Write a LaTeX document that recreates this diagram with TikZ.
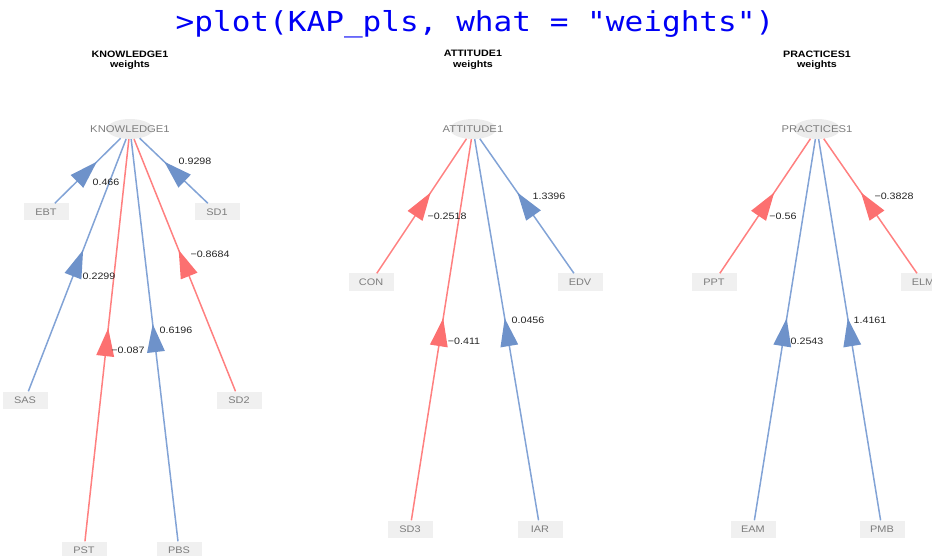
\documentclass[tikz,border=0pt]{standalone}
\usepackage{fontspec}
\setmainfont{Liberation Sans}
\newfontfamily\plotfont[FakeStretch=1.15]{Liberation Sans}
\newfontfamily\codefont[FakeStretch=1.13]{DejaVu Sans Mono}
\usetikzlibrary{arrows.meta,decorations.markings,shapes.geometric}

\definecolor{posline}{RGB}{130,163,214}
\definecolor{postip}{RGB}{110,146,202}
\definecolor{negline}{RGB}{255,128,128}
\definecolor{negtip}{RGB}{252,112,112}
\definecolor{boxgray}{RGB}{240,240,240}
\definecolor{ovalgray}{RGB}{236,236,236}
\definecolor{namegray}{RGB}{125,125,125}
\definecolor{codeblue}{RGB}{0,0,245}

\begin{document}
\begin{tikzpicture}[x=1pt,y=-1pt,
  mv/.style={rectangle, fill=boxgray, minimum width=45pt, minimum height=17pt,
    inner sep=0pt, text=namegray, font=\plotfont\fontsize{9.5}{11}\selectfont},
  lv/.style={ellipse, fill=ovalgray, minimum width=46pt, minimum height=20pt, inner sep=0pt},
  lvname/.style={text=namegray, inner sep=0pt, font=\plotfont\fontsize{9.8}{11}\selectfont},
  heading/.style={align=center, inner sep=0pt, font=\plotfont\bfseries\fontsize{9.3}{10.5}\selectfont},
  wlabel/.style={inner sep=0pt, text=black!85, font=\plotfont\fontsize{9.3}{11}\selectfont},
  posedge/.style={draw=posline, line width=1.5pt},
  negedge/.style={draw=negline, line width=1.5pt},
  tipat/.style 2 args={postaction=decorate, decoration={markings,
    mark=at position #1 with {\arrow{Triangle[length=28pt,width=18pt,line width=0pt,color=#2,fill=#2]}}}},
]
\useasboundingbox (0,0) rectangle (932,556);
\clip (0,0) rectangle (932,556);

% command line
\node[anchor=base, inner sep=0pt, text=codeblue, font=\codefont\fontsize{27.5}{32}\selectfont]
  (cmd) at (475,32) {>plot(KAP\_pls, what = "weights")};

% ---------- KNOWLEDGE1 ----------
\node[heading] (hK) at (130,60) {KNOWLEDGE1\\weights};
\node[lv] (K) at (130,129) {};
\node[lvname] (tK) at (K) {KNOWLEDGE1};
\node[mv] (EBT) at (46,212) {EBT};
\node[mv] (SD1) at (217,212) {SD1};
\node[mv] (SAS) at (25,400) {SAS};
\node[mv] (SD2) at (239,400) {SD2};
\node[mv] (PST) at (84,550) {PST};
\node[mv] (PBS) at (179,550) {PBS};

\draw[posedge, tipat={0.64}{postip}] (EBT) -- (K);
\draw[posedge, tipat={0.64}{postip}] (SD1) -- (K);
\draw[posedge, tipat={0.56}{postip}] (SAS) -- (K);
\draw[negedge, tipat={0.56}{negtip}] (SD2) -- (K);
\draw[negedge, tipat={0.53}{negtip}] (PST) -- (K);
\draw[posedge, tipat={0.54}{postip}] (PBS) -- (K);

\node[wlabel] (wEBT) at (106,182) {0.466};
\node[wlabel] (wSD1) at (195,161) {0.9298};
\node[wlabel] (wSAS) at (99,276) {0.2299};
\node[wlabel] (wSD2) at (210,254) {−0.8684};
\node[wlabel] (wPST) at (128,350) {−0.087};
\node[wlabel] (wPBS) at (176,330) {0.6196};

% ---------- ATTITUDE1 ----------
\node[heading] (hA) at (473,60) {ATTITUDE1\\weights};
\node[lv] (A) at (473,129) {};
\node[lvname] (tA) at (A) {ATTITUDE1};
\node[mv] (CON) at (371,282) {CON};
\node[mv] (EDV) at (580,282) {EDV};
\node[mv] (SD3) at (410,529) {SD3};
\node[mv] (IAR) at (540,529) {IAR};

\draw[negedge, tipat={0.60}{negtip}] (CON) -- (A);
\draw[posedge, tipat={0.60}{postip}] (EDV) -- (A);
\draw[negedge, tipat={0.53}{negtip}] (SD3) -- (A);
\draw[posedge, tipat={0.53}{postip}] (IAR) -- (A);

\node[wlabel] (wCON) at (447,216) {−0.2518};
\node[wlabel] (wEDV) at (549,196) {1.3396};
\node[wlabel] (wSD3) at (464,341) {−0.411};
\node[wlabel] (wIAR) at (528,320) {0.0456};

% ---------- PRACTICES1 ----------
\node[heading] (hP) at (817,60) {PRACTICES1\\weights};
\node[lv] (P) at (817,129) {};
\node[lvname] (tP) at (P) {PRACTICES1};
\node[mv] (PPT) at (714,282) {PPT};
\node[mv] (ELM) at (923,282) {ELM};
\node[mv] (EAM) at (753,529) {EAM};
\node[mv] (PMB) at (882,529) {PMB};

\draw[negedge, tipat={0.60}{negtip}] (PPT) -- (P);
\draw[negedge, tipat={0.60}{negtip}] (ELM) -- (P);
\draw[posedge, tipat={0.53}{postip}] (EAM) -- (P);
\draw[posedge, tipat={0.53}{postip}] (PMB) -- (P);

\node[wlabel] (wPPT) at (783,216) {−0.56};
\node[wlabel] (wELM) at (894,196) {−0.3828};
\node[wlabel] (wEAM) at (807,341) {0.2543};
\node[wlabel] (wPMB) at (870,320) {1.4161};
\end{tikzpicture}
\end{document}
